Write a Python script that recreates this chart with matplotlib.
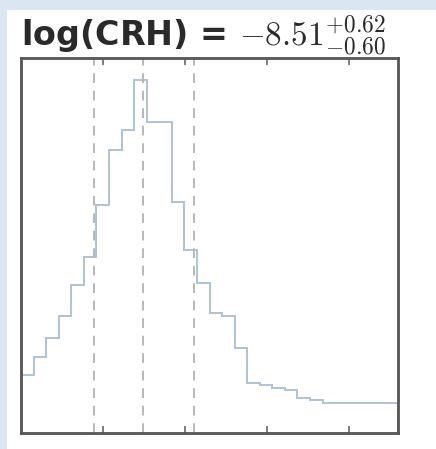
import numpy as np
import matplotlib
matplotlib.use("Agg")
import matplotlib.pyplot as plt
from matplotlib.patches import Rectangle

plt.rcParams["mathtext.fontset"] = "cm"

# marginal posterior of log(CRH), 30 bins over the plotted range
x_lo, x_hi, n_bins = -10.0, -5.4, 30
counts = [58, 76, 95, 117, 148, 176, 228, 283, 303, 353,
          311, 311, 231, 183, 150, 120, 117, 85, 50, 48,
          45, 43, 35, 33, 30, 30, 30, 30, 30, 30]
q16, q50, q84 = -9.11, -8.51, -7.89
xticks = [-9, -8, -7, -6]
label = "log(CRH)"

edges = np.linspace(x_lo, x_hi, n_bins + 1)

fig = plt.figure(figsize=(4.36, 4.49), dpi=100)
fig.patch.set_facecolor("#dce6f2")

# white page sitting on the blue slide
bg = fig.add_axes([0, 0, 1, 1], zorder=-10)
bg.set_axis_off()
bg.set_xlim(0, 436); bg.set_ylim(449, 0)
bg.add_patch(Rectangle((7, 10), 436, 449, facecolor="white", edgecolor="none"))

ax = fig.add_axes([21 / 436, 16 / 449, 377 / 436, 375 / 449], zorder=1)
ax.stairs(counts, edges, color="#adc4d6", lw=1.4)
for q in (q16, q50, q84):
    ax.axvline(q, color="#b8b8b8", ls=(0, (5, 4)), lw=1.4)

ax.set_xlim(x_lo, x_hi)
ax.set_ylim(0, 1.063 * max(counts))
ax.set_xticks(xticks)
ax.set_yticks([])
ax.tick_params(axis="x", direction="in", top=True, bottom=True,
               labelbottom=False, length=5, width=1.2, color="#666666")
for s in ax.spines.values():
    s.set_color("#555555")
    s.set_linewidth(2)

ax.set_title(f"{label} = ${q50:.2f}^{{+{q84 - q50:.2f}}}_{{-{q50 - q16:.2f}}}$",
             fontsize=24, loc="left", x=0.0, pad=8, color="#2a2a2a",
             fontweight="bold")

fig.savefig("out.png", dpi=100)
